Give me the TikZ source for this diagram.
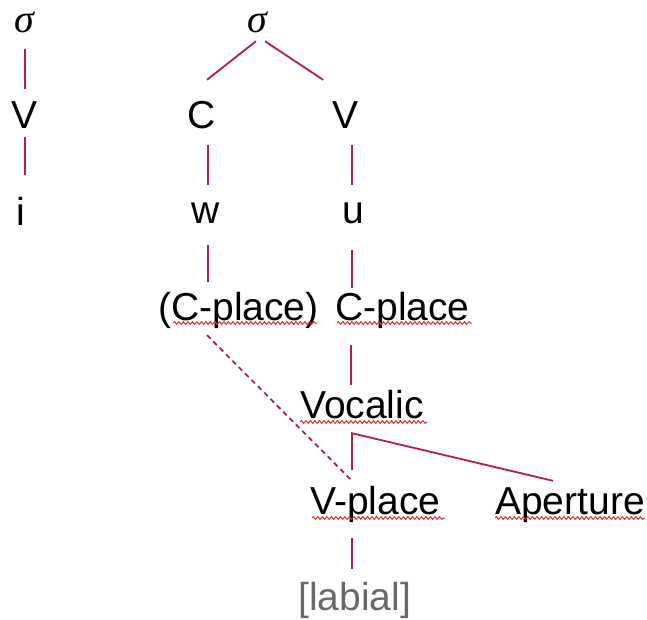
\documentclass[tikz,border=0pt]{standalone}
\usepackage{fontspec}
\setmainfont{Liberation Sans}
\newfontfamily\sigmafont{Liberation Serif}
\usetikzlibrary{decorations.pathmorphing}
\definecolor{linkred}{RGB}{180,30,65}
\definecolor{squig}{RGB}{235,45,45}
\definecolor{featgray}{RGB}{105,105,105}
\tikzset{
  lab/.style={inner sep=0pt, text height=28pt, text depth=0pt, anchor=base,
    font=\fontsize{39}{45}\selectfont},
  labw/.style={lab, anchor=base west},
  syl/.style={lab, font=\sigmafont\itshape\fontsize{40}{46}\selectfont},
  link/.style={draw=linkred, line width=1.8pt},
  dlink/.style={link, dash pattern=on 5pt off 4pt},
  spell/.style={draw=squig, line width=1pt,
    decorate, decoration={snake, amplitude=1.4pt, segment length=4.5pt}}
}
\begin{document}
\begin{tikzpicture}[x=1pt, y=-1pt]
\useasboundingbox (0,0) rectangle (647,619);

% left syllable
\node[syl] (sL) at (24,32) {σ};
\node[lab] (VL) at (25,128) {V};
\node[lab] (iL) at (21,225) {i};

% right syllable
\node[syl] (sR) at (257,32) {σ};
\node[lab] (C)  at (202,128) {C};
\node[lab] (VR) at (346,128) {V};
\node[lab] (w)  at (206,223) {w};
\node[lab] (u)  at (353,223) {u};

% feature geometry
\node[labw] (Cp1) at (158,320) {(C-place)};
\node[labw] (Cp2) at (335,320) {C-place};
\node[labw] (Voc) at (300,418) {Vocalic};
\node[labw] (Vp)  at (310,514) {V-place};
\node[labw] (Ap)  at (495,514) {Aperture};
\node[labw, text=featgray] (lab) at (298,610) {[labial]};

% association lines
\draw[link] ([shift={(1,17)}]sL.south) -- ([shift={(0,-11)}]VL.north);
\draw[link] ([shift={(0,9)}]VL.south) -- ([shift={(4,-22)}]iL.north);
\draw[link] ([shift={(-1,9)}]sR.south) -- ([shift={(5,-20)}]C.north);
\draw[link] ([shift={(8,9)}]sR.south) -- ([shift={(-23,-20)}]VR.north);
\draw[link] ([shift={(6,17)}]C.south) -- ([shift={(2,-10)}]w.north);
\draw[link] ([shift={(6,17)}]VR.south) -- ([shift={(-1,-10)}]u.north);
\draw[link] ([shift={(2,22)}]w.south) -- ([shift={(50,-10)}]Cp1.north west);
\draw[link] ([shift={(-1,27)}]u.south) -- ([shift={(17,-4)}]Cp2.north west);
\draw[link] ([shift={(16,25)}]Cp2.south west) -- ([shift={(51,-5)}]Voc.north west);
\draw[link] ([shift={(42,-16)}]Vp.north west) -- ([shift={(52,15)}]Voc.south west)
  -- ([shift={(58,-5)}]Ap.north west);
\draw[dlink] ([shift={(49,15)}]Cp1.south west) -- ([shift={(42,-5)}]Vp.north west);
\draw[link] ([shift={(42,24)}]Vp.south west) -- ([shift={(54,-13)}]lab.north west);

% spelling underlines
\draw[spell] ([shift={(15,3)}]Cp1.base west) -- ([shift={(159,3)}]Cp1.base west);
\draw[spell] ([shift={(2,3)}]Cp2.base west) -- ([shift={(137,3)}]Cp2.base west);
\draw[spell] ([shift={(0,4)}]Voc.base west) -- ([shift={(127,4)}]Voc.base west);
\draw[spell] ([shift={(2,4)}]Vp.base west) -- ([shift={(135,4)}]Vp.base west);
\draw[spell] ([shift={(0,4)}]Ap.base west) -- ([shift={(150,4)}]Ap.base west);
\end{tikzpicture}
\end{document}
